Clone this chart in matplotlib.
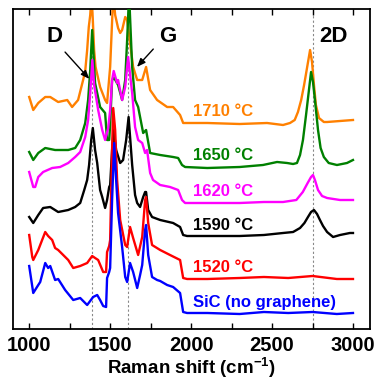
import matplotlib
matplotlib.use("Agg")
import matplotlib.pyplot as plt
from matplotlib.ticker import MultipleLocator

plt.rcParams['font.family'] = ['Liberation Sans', 'DejaVu Sans']
plt.rcParams['font.weight'] = 'bold'
plt.rcParams['mathtext.fontset'] = 'custom'
plt.rcParams['mathtext.rm'] = 'Liberation Sans'
plt.rcParams['mathtext.default'] = 'regular'

# Raman spectra (wavenumber in cm^-1, stacked intensity in a.u.)
sic_w = [1000, 1025, 1056, 1068, 1099, 1117, 1130, 1160, 1179, 1222, 1272, 1315, 1358, 1395,
         1420, 1438, 1457, 1475, 1481, 1494, 1500, 1512, 1525, 1537, 1549, 1574, 1593, 1605,
         1623, 1642, 1667, 1685, 1698, 1716, 1722, 1735, 1759, 1790, 1809, 1852, 1889, 1932,
         1951, 1975, 2100, 2300, 2450, 2600, 2750, 2900, 3000]
sic_i = [63, 36, 44, 47, 66, 61, 63, 49, 50, 39, 29, 31, 24, 32,
         34, 29, 23, 22, 51, 57, 61, 129, 186, 149, 116, 82, 52, 47,
         66, 57, 41, 54, 64, 99, 104, 74, 52, 49, 48, 44, 42, 36,
         17, 16, 16, 15, 17, 16, 17, 15, 16]

t1520_w = [1000, 1019, 1025, 1056, 1099, 1117, 1142, 1160, 1179, 1241, 1272, 1315, 1358, 1389,
           1407, 1426, 1457, 1475, 1481, 1494, 1500, 1512, 1519, 1531, 1543, 1562, 1593, 1605,
           1623, 1642, 1673, 1698, 1716, 1722, 1735, 1759, 1809, 1870, 1932, 1951, 1975, 2100,
           2300, 2450, 2600, 2750, 2900, 3000]
t1520_i = [94, 72, 69, 79, 97, 93, 89, 81, 79, 69, 61, 63, 66, 73,
           71, 69, 57, 57, 77, 83, 89, 179, 221, 199, 149, 109, 84, 82,
           102, 91, 74, 92, 129, 132, 106, 84, 79, 74, 69, 51, 50, 50,
           51, 52, 51, 53, 50, 50]

t1590_w = [1000, 1025, 1056, 1086, 1130, 1179, 1241, 1284, 1315, 1340, 1358, 1370, 1383, 1393,
           1407, 1420, 1438, 1451, 1469, 1481, 1494, 1500, 1512, 1522, 1537, 1562, 1580, 1599,
           1614, 1636, 1654, 1667, 1685, 1704, 1716, 1722, 1735, 1759, 1809, 1889, 1932, 1951,
           1975, 2100, 2300, 2450, 2568, 2630, 2673, 2700, 2722, 2741, 2759, 2778, 2796, 2815,
           2840, 2877, 2920, 2981, 3000]
t1590_i = [112, 106, 114, 121, 122, 117, 119, 122, 126, 139, 149, 164, 189, 201,
           179, 166, 139, 132, 121, 129, 142, 144, 179, 199, 179, 166, 169, 189,
           212, 164, 134, 126, 122, 132, 137, 137, 119, 112, 109, 106, 102, 94,
           93, 93, 93, 94, 96, 97, 101, 106, 112, 117, 119, 115, 109, 103,
           97, 92, 94, 96, 96]

t1620_w = [1000, 1025, 1037, 1056, 1086, 1142, 1191, 1241, 1284, 1315, 1346, 1364, 1377, 1390,
           1401, 1426, 1451, 1469, 1488, 1500, 1512, 1522, 1543, 1549, 1574, 1593, 1611, 1636,
           1654, 1673, 1698, 1716, 1728, 1747, 1765, 1809, 1870, 1920, 1944, 1963, 2100, 2300,
           2450, 2568, 2650, 2690, 2720, 2741, 2753, 2765, 2784, 2809, 2840, 2920, 3000]
t1620_i = [157, 142, 142, 152, 157, 161, 162, 166, 172, 177, 192, 209, 236, 269,
           244, 219, 199, 189, 201, 219, 249, 258, 246, 249, 229, 242, 272, 236,
           202, 189, 186, 176, 179, 156, 149, 144, 142, 139, 129, 126, 126, 126,
           127, 127, 129, 137, 146, 152, 154, 149, 139, 133, 131, 129, 129]

t1650_w = [1000, 1025, 1056, 1099, 1160, 1241, 1284, 1315, 1346, 1364, 1377, 1389, 1407, 1438,
           1469, 1481, 1494, 1500, 1512, 1525, 1549, 1574, 1593, 1605, 1617, 1636, 1654, 1673,
           1704, 1722, 1747, 1809, 1889, 1920, 1944, 1963, 2100, 2300, 2444, 2531, 2593, 2630,
           2654, 2673, 2691, 2710, 2728, 2741, 2753, 2765, 2784, 2800, 2820, 2850, 2901, 2963,
           3000]
t1650_i = [177, 169, 176, 181, 179, 179, 181, 189, 206, 229, 259, 299, 246, 222,
           216, 189, 189, 204, 249, 251, 244, 229, 249, 289, 335, 262, 229, 222,
           196, 199, 176, 174, 172, 171, 164, 162, 161, 162, 164, 167, 166, 165,
           166, 174, 189, 214, 239, 257, 247, 229, 199, 181, 172, 166, 164, 166,
           169]

t1710_w = [1000, 1025, 1056, 1099, 1130, 1179, 1235, 1265, 1302, 1333, 1346, 1358, 1368, 1377,
           1385, 1393, 1401, 1410, 1438, 1469, 1481, 1500, 1519, 1531, 1549, 1562, 1574, 1593,
           1605, 1623, 1642, 1667, 1698, 1722, 1747, 1790, 1852, 1889, 1932, 1951, 1975, 2100,
           2300, 2469, 2568, 2611, 2640, 2660, 2680, 2698, 2716, 2735, 2747, 2759, 2771, 2790,
           2820, 2840, 2920, 3000]
t1710_i = [232, 219, 226, 232, 232, 227, 229, 222, 229, 249, 258, 279, 302, 314,
           334, 309, 279, 262, 242, 229, 226, 262, 334, 314, 301, 296, 299, 312,
           309, 286, 262, 249, 249, 262, 239, 229, 222, 222, 214, 206, 206, 206,
           205, 206, 204, 206, 209, 217, 229, 244, 261, 279, 267, 244, 224, 211,
           207, 207, 208, 209]

# drawn from the top trace down so the lower traces sit in front
spectra = [
    (t1710_w, t1710_i, '#FF8000', '1710 \u00b0C', 217),
    (t1650_w, t1650_i, '#008000', '1650 \u00b0C', 173),
    (t1620_w, t1620_i, '#FF00FF', '1620 \u00b0C', 137),
    (t1590_w, t1590_i, '#000000', '1590 \u00b0C', 103),
    (t1520_w, t1520_i, '#FF0000', '1520 \u00b0C', 61),
    (sic_w, sic_i, '#0000FF', 'SiC (no graphene)', 26),
]

band_pos = [1390, 1610, 2755]

fig = plt.figure(figsize=(3.76, 3.83), dpi=100)
ax = fig.add_axes([0.0346, 0.141, 0.9494, 0.8355])

for x in band_pos:
    ax.axvline(x, color='#888888', lw=0.8, ls=(0, (2, 2)), zorder=1)

for k, (w, inten, col, lab, ly) in enumerate(spectra):
    ax.plot(w, inten, color=col, lw=1.7, zorder=2 + k)
    ax.text(2010, ly, lab, color=col, fontsize=12, fontweight='bold',
            ha='left', va='center', zorder=10)

ax.text(1154, 293, 'D', fontsize=16, fontweight='bold', ha='center', va='center')
ax.text(1858, 293, 'G', fontsize=16, fontweight='bold', ha='center', va='center')
ax.text(2877, 293, '2D', fontsize=16, fontweight='bold', ha='center', va='center')

arrow = dict(arrowstyle='-|>,head_length=0.5,head_width=0.2', color='black', lw=1)
ax.annotate('', xy=(1383, 248), xytext=(1210, 279), arrowprops=arrow, zorder=12)
ax.annotate('', xy=(1654, 260), xytext=(1778, 282), arrowprops=arrow, zorder=12)

ax.set_xlim(900, 3105)
ax.set_ylim(0, 320)
ax.xaxis.set_major_locator(MultipleLocator(500))
ax.xaxis.set_minor_locator(MultipleLocator(250))
ax.tick_params(axis='x', which='both', direction='in', top=True, bottom=True,
               length=4, width=1, labelsize=14.5, pad=5)
ax.set_yticks([])
for s in ax.spines.values():
    s.set_linewidth(1.3)
for lbl in ax.get_xticklabels():
    lbl.set_fontweight('bold')

ax.set_xlabel('Raman shift (cm$^{-1}$)', fontsize=13.5, fontweight='bold', labelpad=0.5)

fig.savefig('out.png', dpi=100)
